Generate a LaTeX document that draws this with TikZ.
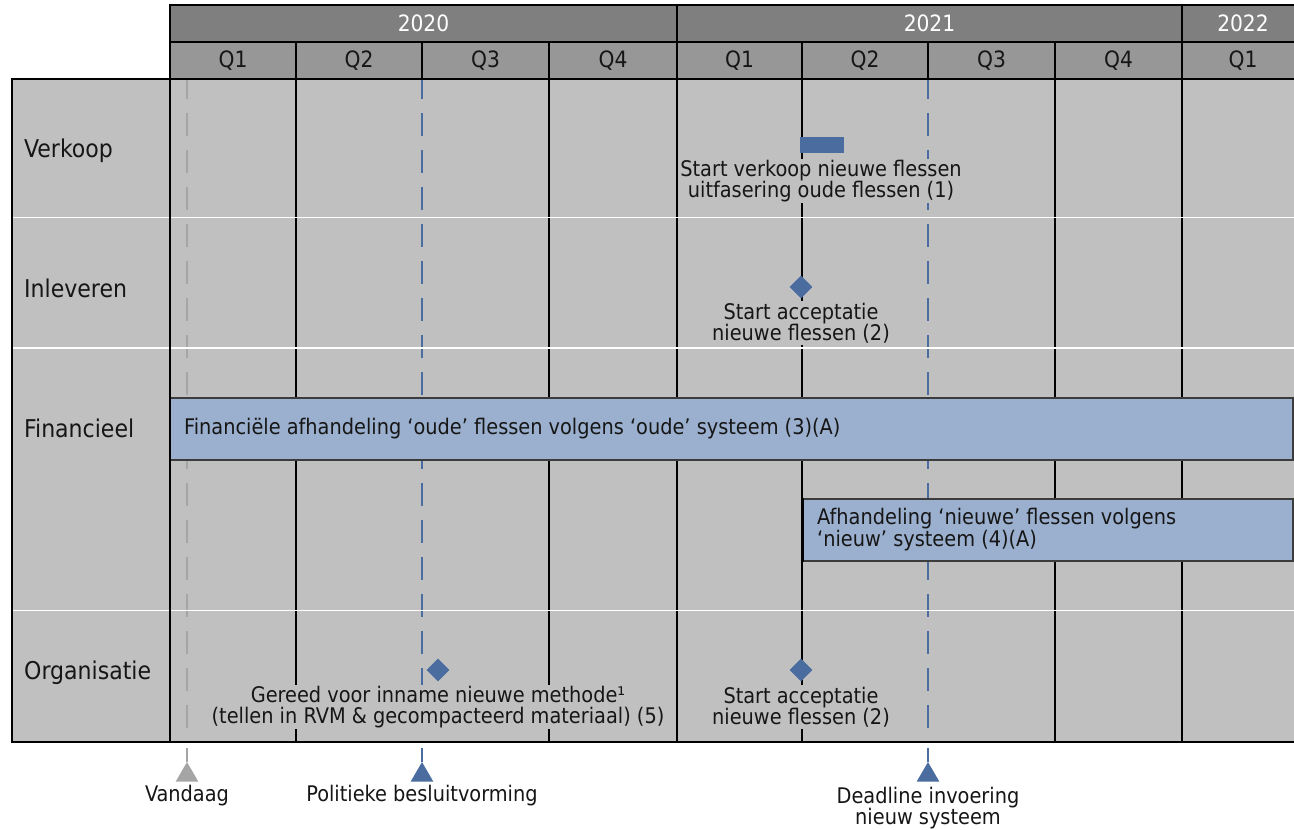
\documentclass[tikz,border=0pt]{standalone}
\usepackage{fontspec}
\setmainfont{DejaVu Sans Condensed}
\usetikzlibrary{shapes.geometric}
\definecolor{bodygray}{RGB}{192,192,192}
\definecolor{yeargray}{RGB}{127,127,127}
\definecolor{qgray}{RGB}{151,151,151}
\definecolor{barblue}{RGB}{155,176,206}
\definecolor{msblue}{RGB}{74,108,158}
\definecolor{markgray}{RGB}{165,165,165}
\definecolor{barline}{RGB}{60,60,60}
\definecolor{txtc}{RGB}{22,22,22}
\tikzset{
  yearcell/.style={draw=black, line width=1.5pt, fill=yeargray, text=white, anchor=north west,
    minimum height=37pt, inner sep=0pt, outer sep=0pt, font=\fontsize{22.5}{22.5}\selectfont},
  qcell/.style={draw=black, line width=1.5pt, fill=qgray, text=txtc, anchor=north west,
    minimum height=37pt, inner sep=0pt, outer sep=0pt, font=\fontsize{22.5}{22.5}\selectfont},
  lane/.style={anchor=base west, inner sep=0pt, text=txtc, font=\fontsize{24.5}{24.5}\selectfont},
  note/.style={fill=bodygray, inner sep=1.5pt, align=center, text=txtc, font=\fontsize{21.5}{21}\selectfont},
  bartext/.style={inner sep=0pt, text=txtc, font=\fontsize{21.5}{22}\selectfont},
  lbl/.style={inner sep=0pt, align=center, text=txtc, font=\fontsize{21.5}{21}\selectfont},
  qline/.style={black, line width=1.3pt},
  sepline/.style={white, line width=1.8pt},
  bdash/.style={msblue, line width=2.5pt, dash pattern=on 23pt off 14pt, dash phase=3pt},
  gdash/.style={markgray, line width=2.5pt, dash pattern=on 23pt off 14pt, dash phase=3pt},
  barbox/.style={fill=barblue, draw=barline, line width=1.5pt},
  ms/.style={diamond, fill=msblue, minimum size=23pt, inner sep=0pt},
  msbar/.style={fill=msblue, minimum width=44pt, minimum height=16pt, inner sep=0pt},
  tri/.style={regular polygon, regular polygon sides=3, minimum size=26pt, inner sep=0pt},
  stem/.style={line width=2.5pt}
}
\begin{document}
\begin{tikzpicture}[x=1pt,y=-1pt]
\useasboundingbox (0,0) rectangle (1294,830);
\fill[white] (0,0) rectangle (1294,830);
% body
\fill[bodygray] (12,79) rectangle (1300,742);
\foreach \x in {296,549,677,802,1055,1182} \draw[qline] (\x,79) -- (\x,742);
% marker lines
\coordinate (vtop) at (187,79);  \coordinate (vbot) at (187,742);
\coordinate (ptop) at (422,79);  \coordinate (pbot) at (422,742);
\coordinate (dtop) at (928,79);  \coordinate (dbot) at (928,742);
\draw[gdash] (vtop) -- (vbot);
\draw[bdash] (ptop) -- (pbot);
\draw[bdash] (dtop) -- (dbot);
% lane separators
\foreach \y in {217.5,348,610.5} \draw[sepline] (12,\y) -- (1300,\y);
% bars
\draw[barbox] (170,398) rectangle (1293,460);
\node[bartext, anchor=west] (fin1) at (184,429) {Financiële afhandeling ‘oude’ flessen volgens ‘oude’ systeem (3)(A)};
\draw[barbox] (803,499) rectangle (1293,561);
\draw[black, line width=2.5pt] (803,498) -- (803,562);
\node[bartext, anchor=west, align=left] (fin2) at (817,530) {Afhandeling ‘nieuwe’ flessen volgens\\‘nieuw’ systeem (4)(A)};
% frame
\draw[black, line width=1.3pt] (170,79) -- (12,79) -- (12,742) -- (1300,742);
\draw[black, line width=1.3pt] (170,79) -- (170,742);
% header
\node[yearcell, minimum width=507pt] (y2020) at (170,5) {2020};
\node[yearcell, minimum width=505pt] (y2021) at (677,5) {2021};
\node[yearcell, minimum width=122pt] (y2022) at (1182,5) {2022};
\foreach \a/\b/\n/\t in {170/296/qa/Q1, 296/422/qb/Q2, 422/549/qc/Q3, 549/677/qd/Q4,
  677/802/qe/Q1, 802/928/qf/Q2, 928/1055/qg/Q3, 1055/1182/qh/Q4, 1182/1304/qi/Q1}
  \node[qcell, minimum width={(\b-\a)*1pt}] (\n) at (\a,42) {\t};
% lane labels
\node[lane] (lv) at (24,157) {Verkoop};
\node[lane] (li) at (24,297) {Inleveren};
\node[lane] (lf) at (24,437) {Financieel};
\node[lane] (lo) at (24,679) {Organisatie};
% milestones
\node[note] (t1) at (821,181) {Start verkoop nieuwe flessen\\uitfasering oude flessen (1)};
\node[msbar] (m1) at (822,145) {};
\node[note] (t2) at (801,323) {Start acceptatie\\nieuwe flessen (2)};
\node[ms] (m2) at (801,287) {};
\node[note] (t5) at (438,707) {Gereed voor inname nieuwe methode¹\\(tellen in RVM \& gecompacteerd materiaal) (5)};
\node[ms] (m5) at (438,670) {};
\node[note] (t6) at (801,707) {Start acceptatie\\nieuwe flessen (2)};
\node[ms] (m6) at (801,670) {};
% bottom markers
\coordinate (vs) at (187,748);
\coordinate (ps) at (422,748);
\coordinate (ds) at (928,748);
\node[tri, fill=markgray] (tv) at (187,775) {};
\node[tri, fill=msblue] (tp) at (422,775) {};
\node[tri, fill=msblue] (td) at (928,775) {};
\draw[stem, markgray] (vs) -- (tv.corner 1);
\draw[stem, msblue] (ps) -- (tp.corner 1);
\draw[stem, msblue] (ds) -- (td.corner 1);
\node[lbl] (bv) at (187,796) {Vandaag};
\node[lbl] (bp) at (422,796) {Politieke besluitvorming};
\node[lbl] (bd) at (928,808) {Deadline invoering\\nieuw systeem};
\end{tikzpicture}
\end{document}
